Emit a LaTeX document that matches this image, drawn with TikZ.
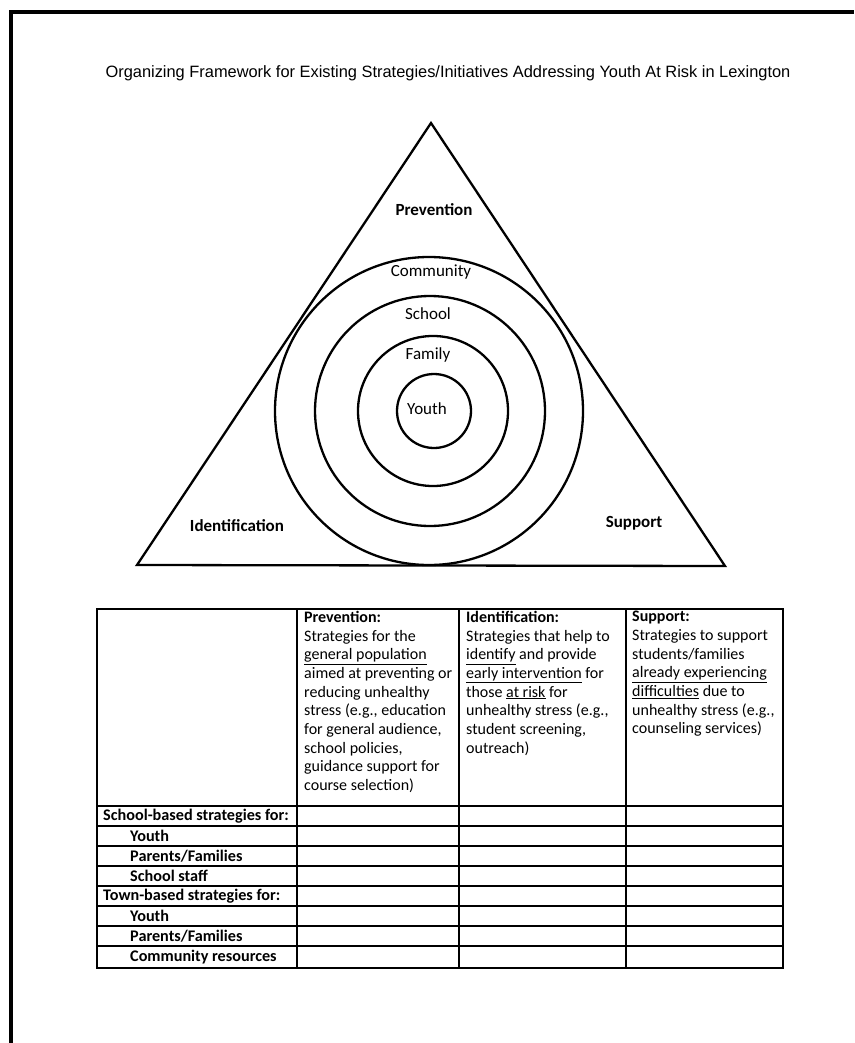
\documentclass[tikz,border=0pt]{standalone}
\usepackage{fontspec}
\setmainfont{Carlito}
\newfontfamily\titlefont{Liberation Sans}
\usepackage{tikz}
\usetikzlibrary{positioning}
\newcommand{\ulx}[1]{\underline{#1}}
\tikzstyle{pageedge} = [line width=3.5pt]
\tikzstyle{ring} = [line width=2.3pt]
\tikzstyle{sidetext} = [inner sep=0pt, font=\fontsize{17}{20}\selectfont\bfseries]
\tikzstyle{ringtext} = [inner sep=0pt, font=\fontsize{17}{20}\selectfont]
\tikzstyle{headcell} = [anchor=north west, inner sep=0pt, align=left, font=\fontsize{16}{18.67}\selectfont]
\tikzstyle{rowhead} = [anchor=west, inner sep=0pt, font=\fontsize{16.2}{18}\selectfont\bfseries]
\tikzstyle{tableline} = [line width=1.2pt]

\begin{document}
\begin{tikzpicture}[x=1pt,y=-1pt]
\useasboundingbox (0,0) rectangle (854,1043);
\fill[white] (0,0) rectangle (854,1043);

% Page edge
\draw[pageedge] (11,1043) -- (11,12) -- (854,12);

% Title
\node[font=\titlefont\fontsize{16.4}{19}\selectfont] (title) at (448,73) {Organizing Framework for Existing Strategies/Initiatives Addressing Youth At Risk in Lexington};

% Triangle
\draw[ring, line join=miter] (431,123) -- (725,566) -- (137,565) -- cycle;

% Rings
\draw[ring] (429,411) circle [radius=154];
\draw[ring] (430,411) circle [radius=115];
\draw[ring] (433,411) circle [radius=75];
\draw[ring] (434,411) circle [radius=37];

% Ring labels
\node[ringtext] (community) at (431,272) {Community};
\node[ringtext] (school) at (428,314) {School};
\node[ringtext] (family) at (428,355) {Family};
\node[ringtext] (youth) at (427,409) {Youth};

% Corner labels
\node[sidetext] (prevention) at (434,210) {Prevention};
\node[sidetext] (identification) at (237,526) {Identification};
\node[sidetext] (support) at (634,523) {Support};

% Table grid
\draw[tableline] (97,609) rectangle (783,968);
\draw[tableline] (297,609) -- (297,968);
\draw[tableline] (459,609) -- (459,968);
\draw[tableline] (626,609) -- (626,968);
\draw[tableline] (97,806) -- (783,806);
\draw[tableline] (97,826) -- (783,826);
\draw[tableline] (97,846) -- (783,846);
\draw[tableline] (97,866) -- (783,866);
\draw[tableline] (97,886) -- (783,886);
\draw[tableline] (97,906) -- (783,906);
\draw[tableline] (97,926) -- (783,926);
\draw[tableline] (97,946) -- (783,946);

% Column heads
\node[headcell] (headprev) at (304,611) {\textbf{Prevention:}\\Strategies for the\\\ulx{general population}\\aimed at preventing or\\reducing unhealthy\\stress (e.g., education\\for general audience,\\school policies,\\guidance support for\\course selection)};
\node[headcell] (headident) at (466,611) {\textbf{Identification:}\\Strategies that help to\\\ulx{identify} and provide\\\ulx{early intervention} for\\those \ulx{at risk} for\\unhealthy stress (e.g.,\\student screening,\\outreach)};
\node[headcell] (headsupp) at (632,611) {\textbf{Support:}\\Strategies to support\\students/families\\\ulx{already experiencing}\\\ulx{difficulties} due to\\unhealthy stress (e.g.,\\counseling services)};

% Row heads
\node[rowhead] (schoolbased) at (103,816) {School-based strategies for:};
\node[rowhead] (schoolyouth) at (130,836) {Youth};
\node[rowhead] (schoolparents) at (130,856) {Parents/Families};
\node[rowhead] (schoolstaff) at (130,876) {School staff};
\node[rowhead] (townbased) at (103,896) {Town-based strategies for:};
\node[rowhead] (townyouth) at (130,916) {Youth};
\node[rowhead] (townparents) at (130,936) {Parents/Families};
\node[rowhead] (townresources) at (130,957) {Community resources};
\end{tikzpicture}
\end{document}
